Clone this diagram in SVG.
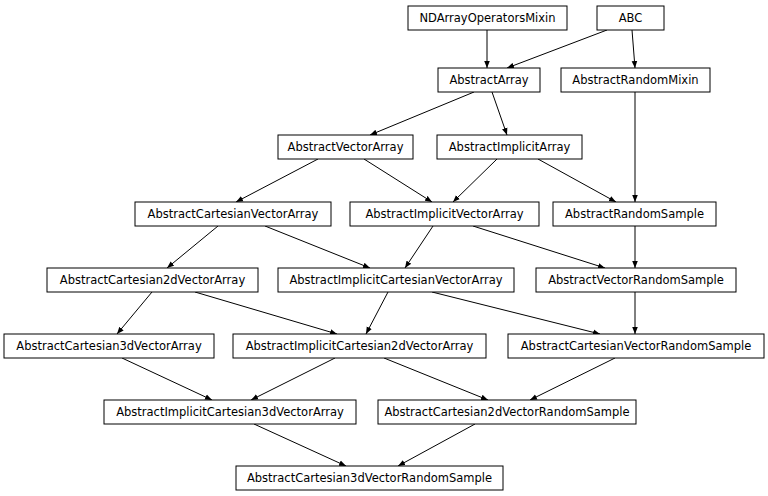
<svg xmlns="http://www.w3.org/2000/svg" width="768" height="496" viewBox="0 0 768 496">
<style>
rect{fill:#fff;stroke:#000;stroke-width:1}
text{font-family:"DejaVu Sans",sans-serif;font-size:11.5px;text-anchor:middle;fill:#000}
#edges line{stroke:#000;stroke-width:1;marker-end:url(#a)}
</style>
<defs><marker id="a" viewBox="0 0 10 10" refX="10" refY="5" markerWidth="7" markerHeight="7" orient="auto" markerUnits="userSpaceOnUse"><path d="M0,1L10,5L0,9z" fill="#000"/></marker></defs>
<rect x="0" y="0" width="768" height="496" style="stroke:none"/>
<g id="edges">
<line x1="487" y1="30" x2="487" y2="68"/>
<line x1="607" y1="30" x2="507" y2="68"/>
<line x1="632" y1="30" x2="635" y2="68"/>
<line x1="474" y1="92" x2="370" y2="135"/>
<line x1="492" y1="92" x2="507" y2="135"/>
<line x1="635" y1="92" x2="635" y2="202"/>
<line x1="318" y1="159" x2="236" y2="202"/>
<line x1="364" y1="159" x2="432" y2="202"/>
<line x1="497" y1="159" x2="453" y2="202"/>
<line x1="538" y1="159" x2="616" y2="202"/>
<line x1="218" y1="226" x2="167" y2="268"/>
<line x1="265" y1="226" x2="370" y2="268"/>
<line x1="433" y1="226" x2="405" y2="268"/>
<line x1="473" y1="226" x2="605" y2="268"/>
<line x1="635" y1="226" x2="635" y2="268"/>
<line x1="152" y1="292" x2="117" y2="334"/>
<line x1="195" y1="292" x2="337" y2="334"/>
<line x1="388" y1="292" x2="366" y2="334"/>
<line x1="432" y1="292" x2="600" y2="334"/>
<line x1="635" y1="292" x2="635" y2="334"/>
<line x1="122" y1="358" x2="212" y2="400"/>
<line x1="335" y1="358" x2="251" y2="400"/>
<line x1="384" y1="358" x2="488" y2="400"/>
<line x1="615" y1="358" x2="530" y2="400"/>
<line x1="254" y1="424" x2="346" y2="466"/>
<line x1="475" y1="424" x2="398" y2="466"/>
</g>
<g id="n1"><rect x="408" y="6" width="159" height="24"/><text x="487.5" y="22">NDArrayOperatorsMixin</text></g>
<g id="n2"><rect x="597" y="6" width="67" height="24"/><text x="630.5" y="22">ABC</text></g>
<g id="n3"><rect x="438" y="68" width="102" height="24"/><text x="489" y="84">AbstractArray</text></g>
<g id="n4"><rect x="561" y="68" width="149" height="24"/><text x="635.5" y="84">AbstractRandomMixin</text></g>
<g id="n5"><rect x="278" y="135" width="135" height="24"/><text x="345.5" y="151">AbstractVectorArray</text></g>
<g id="n6"><rect x="437" y="135" width="145" height="24"/><text x="509.5" y="151">AbstractImplicitArray</text></g>
<g id="n7"><rect x="135" y="202" width="196" height="24"/><text x="233" y="218">AbstractCartesianVectorArray</text></g>
<g id="n8"><rect x="350" y="202" width="189" height="24"/><text x="444.5" y="218">AbstractImplicitVectorArray</text></g>
<g id="n9"><rect x="553" y="202" width="163" height="24"/><text x="634.5" y="218">AbstractRandomSample</text></g>
<g id="n10"><rect x="47" y="268" width="211" height="24"/><text x="152.5" y="284">AbstractCartesian2dVectorArray</text></g>
<g id="n11"><rect x="278" y="268" width="236" height="24"/><text x="396" y="284">AbstractImplicitCartesianVectorArray</text></g>
<g id="n12"><rect x="536" y="268" width="200" height="24"/><text x="636" y="284">AbstractVectorRandomSample</text></g>
<g id="n13"><rect x="4" y="334" width="210" height="24"/><text x="109" y="350">AbstractCartesian3dVectorArray</text></g>
<g id="n14"><rect x="233" y="334" width="253" height="24"/><text x="359.5" y="350">AbstractImplicitCartesian2dVectorArray</text></g>
<g id="n15"><rect x="508" y="334" width="256" height="24"/><text x="636" y="350">AbstractCartesianVectorRandomSample</text></g>
<g id="n16"><rect x="104" y="400" width="252" height="24"/><text x="230" y="416">AbstractImplicitCartesian3dVectorArray</text></g>
<g id="n17"><rect x="378" y="400" width="258" height="24"/><text x="507" y="416">AbstractCartesian2dVectorRandomSample</text></g>
<g id="n18"><rect x="236" y="466" width="267" height="24"/><text x="369.5" y="482">AbstractCartesian3dVectorRandomSample</text></g>
</svg>
